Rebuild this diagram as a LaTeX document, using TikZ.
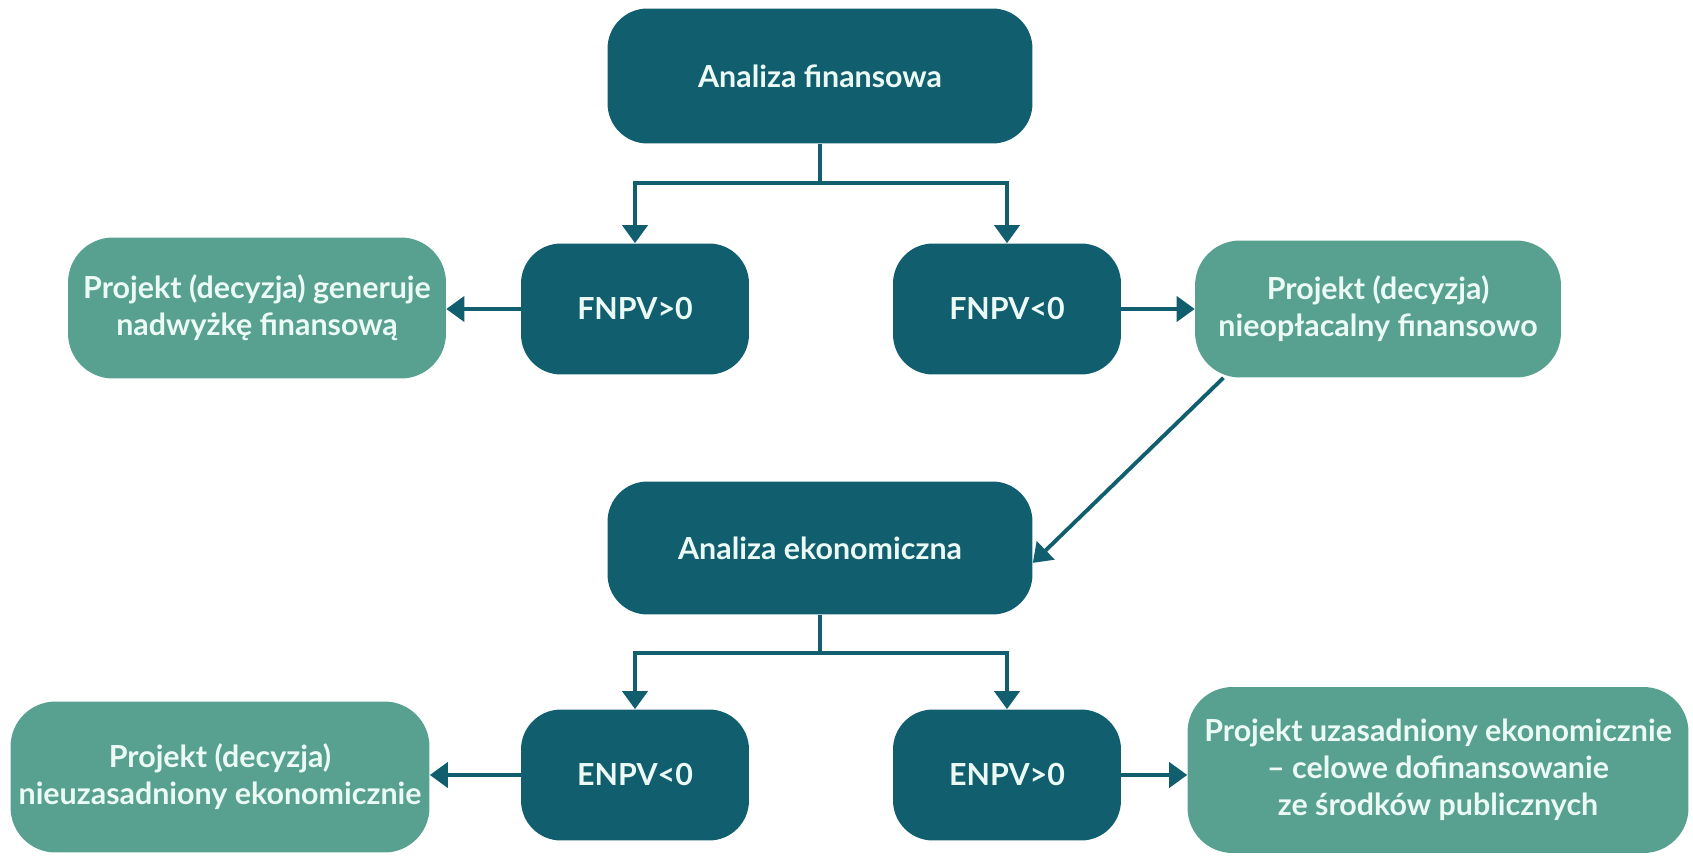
\documentclass[tikz,border=0pt]{standalone}
\usepackage{fontspec}
\setmainfont{Lato}
\usetikzlibrary{arrows.meta}
\definecolor{tealdark}{RGB}{17,94,111}
\definecolor{tealgreen}{RGB}{88,161,144}
\definecolor{boxtext}{RGB}{236,250,246}

\begin{document}
\begin{tikzpicture}[x=0.02cm,y=-0.02cm]
\tikzset{dec/.style = {shape=rectangle,rounded corners=0.8cm,fill=tealdark,text=boxtext,font=\bfseries\fontsize{17.3}{21}\selectfont,align=center}}
\tikzset{res/.style = {dec,fill=tealgreen,rounded corners=0.9cm}}
\tikzset{edge/.style = {-{Triangle[width=0.5cm,length=0.36cm]},draw=tealdark,line width=2.2pt}}

\useasboundingbox (0,0) rectangle (1693,855);

% financial analysis
\node[dec, minimum width=8.5cm,  minimum height=2.7cm ] (af) at (820,76)  {Analiza finansowa};
\node[dec, minimum width=4.56cm, minimum height=2.62cm] (fp) at (635,309) {FNPV>0};
\node[dec, minimum width=4.56cm, minimum height=2.62cm] (fn) at (1007,309) {FNPV<0};
\node[res, minimum width=7.56cm, minimum height=2.82cm] (gp) at (257,308) {Projekt (decyzja) generuje\\nadwyżkę finansową};
\node[res, minimum width=7.32cm, minimum height=2.74cm] (gn) at (1378,309) {Projekt (decyzja)\\nieopłacalny finansowo};

% economic analysis
\node[dec, minimum width=8.5cm,  minimum height=2.66cm] (ae) at (820,548) {Analiza ekonomiczna};
\node[dec, minimum width=4.56cm, minimum height=2.62cm] (en) at (635,775) {ENPV<0};
\node[dec, minimum width=4.56cm, minimum height=2.62cm] (ep) at (1007,775) {ENPV>0};
\node[res, minimum width=8.38cm, minimum height=3.02cm] (gen) at (220,777) {Projekt (decyzja)\\nieuzasadniony ekonomicznie};
\node[res, minimum width=10.02cm, minimum height=3.32cm] (gep) at (1438,770) {Projekt uzasadniony ekonomicznie\\– celowe dofinansowanie\\ze środków publicznych};

\coordinate (forkf) at (820,183);
\coordinate (forke) at (820,653);

\draw[edge, -] (af) -- (forkf);
\draw[edge] (forkf) -| (fp);
\draw[edge] (forkf) -| (fn);
\draw[edge] (fp.west) -- (fp.west -| gp.east);
\draw[edge] (fn.east) -- (fn.east -| gn.west);
\draw[edge] (gn.204) -- (ae.-4);

\draw[edge, -] (ae) -- (forke);
\draw[edge] (forke) -| (en);
\draw[edge] (forke) -| (ep);
\draw[edge] (en.west) -- (en.west -| gen.east);
\draw[edge] (ep.east) -- (ep.east -| gep.west);
\end{tikzpicture}
\end{document}
